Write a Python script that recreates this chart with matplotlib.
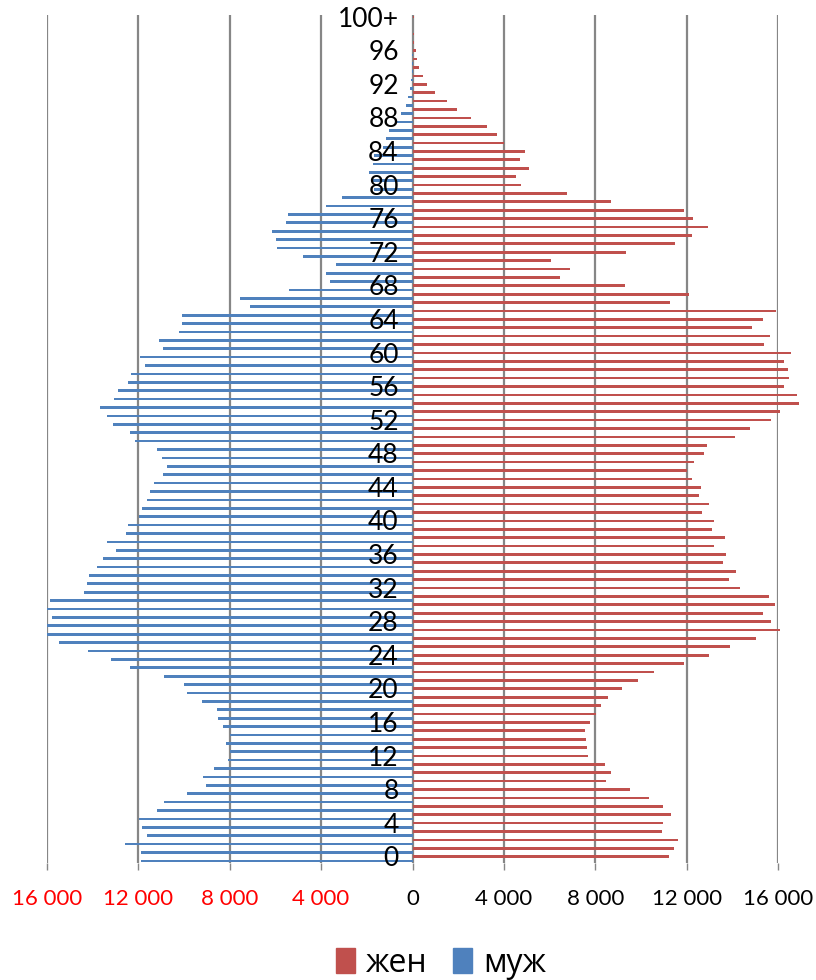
import numpy as np
import matplotlib.pyplot as plt
from matplotlib.patches import Patch

plt.rcParams['font.family'] = ['Lato', 'Open Sans', 'DejaVu Sans']

# data: population by single year of age, 0 .. 100+
ages = [str(a) for a in range(100)] + ['100+']

female = [11220, 11450, 11610, 10940, 10950, 11320, 10950, 10370, 9500, 8450,
          8700, 8420, 7690, 7640, 7600, 7570, 7750, 8040, 8240, 8580,
          9190, 9850, 10590, 11900, 12960, 13910, 15040, 16090, 15710, 15340,
          15860, 15620, 14350, 13850, 14140, 13600, 13730, 13190, 13670, 13100,
          13190, 12660, 12990, 12530, 12640, 12240, 12030, 12310, 12770, 12880,
          14110, 14760, 15680, 16090, 16910, 16810, 16270, 16470, 16440, 16270,
          16570, 15400, 15670, 14860, 15340, 15930, 11260, 12120, 9300, 6470,
          6910, 6050, 9330, 11510, 12230, 12930, 12270, 11870, 8700, 6780,
          4730, 4550, 5100, 4700, 4930, 4010, 3720, 3240, 2560, 1930,
          1510, 990, 650, 460, 290, 200, 150, 80, 60, 20,
          80]

male = [11900, 11900, 12570, 11620, 11820, 11970, 11180, 10870, 9860, 9040,
        9190, 8690, 8090, 7990, 8180, 7990, 8280, 8500, 8570, 9200,
        9880, 10010, 10860, 12350, 13220, 14210, 15470, 16000, 16000, 15780,
        16000, 15870, 14390, 14260, 14170, 13820, 13550, 12970, 13380, 12560,
        12450, 11960, 11850, 11630, 11500, 11310, 10920, 10730, 10960, 11180,
        12150, 12370, 13110, 13380, 13670, 13050, 12890, 12450, 12320, 11690,
        11910, 10930, 11110, 10200, 10080, 10080, 7110, 7530, 5410, 3600,
        3770, 3330, 4790, 5930, 5980, 6150, 5520, 5430, 3790, 3070,
        1690, 1740, 1910, 1740, 1690, 1290, 1160, 1040, 720, 490,
        290, 190, 110, 80, 30, 10, 5, 0, 0, 0,
        0]

ticks = [-16000, -12000, -8000, -4000, 0, 4000, 8000, 12000, 16000]
tick_labels = ['16 000', '12 000', '8 000', '4 000', '0',
               '4 000', '8 000', '12 000', '16 000']

red = '#C0504D'
blue = '#4F81BD'
grid = '#868686'

fig = plt.figure(figsize=(8.16, 9.8), dpi=100)
ax = fig.add_axes([47 / 816, 1 - 863 / 980, (778 - 47) / 816, 848 / 980])

y = np.arange(len(ages))
ax.barh(y + 0.25, female, height=0.32, color=red, zorder=3, clip_on=False)
ax.barh(y - 0.25, [-m for m in male], height=0.32, color=blue, zorder=3,
        clip_on=False)

ax.set_xlim(-16000, 16000)
ax.set_ylim(-0.5, len(ages) - 0.5)

for t in ticks:
    ax.axvline(t, color=grid, lw=1.6, zorder=1)

# age labels every 4 years, drawn over the bars
for i in range(0, len(ages), 4):
    ax.text(-600, y[i], ages[i], ha='right', va='center', fontsize=19,
            color='black', zorder=5)

ax.set_yticks([])
ax.set_xticks(ticks)
ax.set_xticklabels(tick_labels, fontsize=16)
for lab, t in zip(ax.get_xticklabels(), ticks):
    lab.set_color('red' if t < 0 else 'black')
ax.tick_params(axis='x', length=5, width=1, color=grid, pad=14)

for s in ax.spines.values():
    s.set_visible(False)

handles = [Patch(color=red, label='жен'), Patch(color=blue, label='муж')]
fig.legend(handles=handles, loc='center', ncol=2, frameon=False,
           bbox_to_anchor=(441 / 816, 1 - 963 / 980),
           prop={'family': ['Open Sans', 'DejaVu Sans'], 'size': 23},
           handlelength=0.6, handleheight=0.8, handletextpad=0.35,
           columnspacing=0.8)

fig.savefig('out.png', dpi=100)
